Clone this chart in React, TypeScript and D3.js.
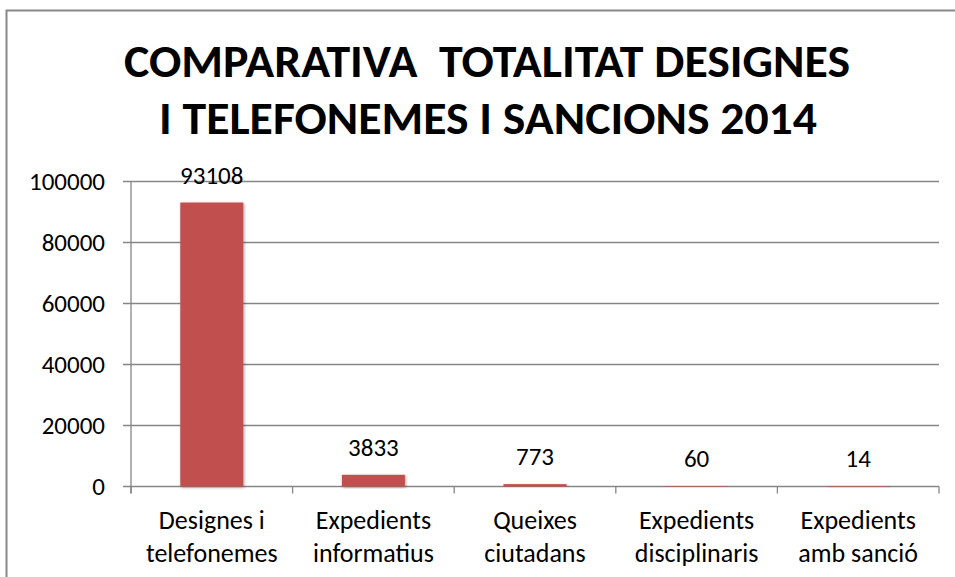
import { useMemo } from "react";
import * as d3 from "d3";

const categories = [
  ["Designes i", "telefonemes"],
  ["Expedients", "informatius"],
  ["Queixes", "ciutadans"],
  ["Expedients", "disciplinaris"],
  ["Expedients", "amb sanció"],
];
const values = [93108, 3833, 773, 60, 14];
const yTicks = [0, 20000, 40000, 60000, 80000, 100000];
const titleLines = ["COMPARATIVA  TOTALITAT DESIGNES", "I TELEFONEMES I SANCIONS 2014"];

const WIDTH = 955;
const HEIGHT = 577;
const PLOT = { left: 131, right: 939, top: 181.5, bottom: 486.5 };
const FONT = "Carlito, Calibri, 'Open Sans', sans-serif";
const GRID = "#868686";

export default function App() {
  const x = useMemo(
    () =>
      d3
        .scaleBand<number>()
        .domain(values.map((_, i) => i))
        .range([PLOT.left, PLOT.right])
        .paddingInner(0.61)
        .paddingOuter(0.305),
    []
  );
  const y = useMemo(
    () => d3.scaleLinear().domain([0, 100000]).range([PLOT.bottom, PLOT.top]),
    []
  );
  const step = (PLOT.right - PLOT.left) / values.length;

  return (
    <div style={{ position: "absolute", left: 0, top: 0 }}>
      <svg width={WIDTH} height={HEIGHT} style={{ display: "block", background: "#fff" }}>
        <defs>
          <filter id="shadow" x="-20%" y="-20%" width="140%" height="140%">
            <feDropShadow dx="1" dy="1" stdDeviation="1.5" floodColor="#000" floodOpacity="0.35" />
          </filter>
        </defs>

        {/* outer frame */}
        <rect x={6.5} y={10.5} width={960} height={600} fill="none" stroke="#888" strokeWidth={2} />

        {/* title */}
        {titleLines.map((t, i) => (
          <text
            key={i}
            x={i === 0 ? 124 : 159}
            y={i === 0 ? 77 : 134}
            fontFamily={FONT}
            fontWeight="bold"
            fontSize={46}
            textLength={i === 0 ? 726 : 658}
            lengthAdjust="spacingAndGlyphs"
            fill="#000"
            style={{ whiteSpace: "pre" }}
          >
            {t}
          </text>
        ))}

        {/* gridlines + y ticks */}
        {yTicks.map((t) => (
          <g key={t}>
            <line
              x1={PLOT.left - 8}
              x2={PLOT.right}
              y1={y(t)}
              y2={y(t)}
              stroke={GRID}
              strokeWidth={1.3}
            />
            <text
              x={105}
              y={y(t)}
              dy="0.35em"
              textAnchor="end"
              fontFamily={FONT}
              fontSize={25}
              fill="#000"
            >
              {t}
            </text>
          </g>
        ))}

        {/* y axis */}
        <line x1={PLOT.left} x2={PLOT.left} y1={PLOT.top} y2={PLOT.bottom + 7} stroke={GRID} strokeWidth={1.3} />

        {/* x ticks */}
        {d3.range(values.length + 1).map((i) => (
          <line
            key={i}
            x1={PLOT.left + i * step}
            x2={PLOT.left + i * step}
            y1={PLOT.bottom}
            y2={PLOT.bottom + 7}
            stroke={GRID}
            strokeWidth={1.3}
          />
        ))}

        {/* bars */}
        {values.map((v, i) => (
          <rect
            key={i}
            x={x(i)}
            y={y(v)}
            width={x.bandwidth()}
            height={Math.max(PLOT.bottom - y(v), 0.5)}
            fill="#C0504D"
            filter="url(#shadow)"
          />
        ))}

        {/* value labels */}
        {values.map((v, i) => (
          <text
            key={i}
            x={(x(i) ?? 0) + x.bandwidth() / 2}
            y={y(v) - 19}
            textAnchor="middle"
            fontFamily={FONT}
            fontSize={25}
            fill="#000"
          >
            {v}
          </text>
        ))}

        {/* category labels */}
        {categories.map((lines, i) => (
          <text
            key={i}
            x={(x(i) ?? 0) + x.bandwidth() / 2}
            textAnchor="middle"
            fontFamily={FONT}
            fontSize={26}
            fill="#000"
          >
            {lines.map((l, j) => (
              <tspan key={j} x={(x(i) ?? 0) + x.bandwidth() / 2} y={529 + j * 33}>
                {l}
              </tspan>
            ))}
          </text>
        ))}
      </svg>
    </div>
  );
}
